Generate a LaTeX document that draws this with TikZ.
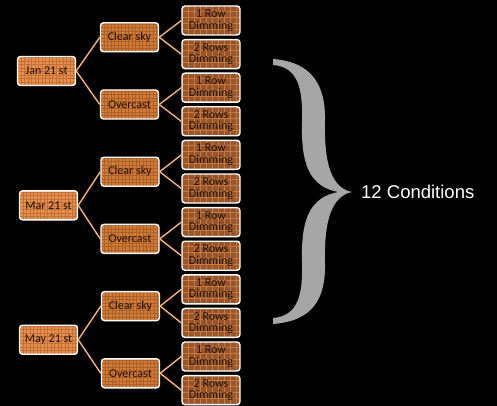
\documentclass[tikz,border=0pt]{standalone}
\usepackage{fontspec}
\setmainfont{Carlito}
\newfontfamily\labelfont{Liberation Sans}
\definecolor{leaffill}{HTML}{98542A}
\definecolor{leafgrid}{HTML}{C87A3E}
\definecolor{midfill}{HTML}{D47B36}
\definecolor{midgrid}{HTML}{A9602A}
\definecolor{rootfill}{HTML}{E8914E}
\definecolor{rootgrid}{HTML}{C27038}
\definecolor{linkcol}{HTML}{F4B183}
\definecolor{bracecol}{HTML}{A6A6A6}
\definecolor{textcol}{HTML}{1E1008}
\tikzset{
  plaid/.style n args={3}{fill=#1, path picture={
    \foreach \k in {0,#3,...,64} {
      \draw[#2, line width=0.5pt]
        ([xshift=\k pt]path picture bounding box.south west) --
        ([xshift=\k pt]path picture bounding box.north west);
    }
    \foreach \k in {0,#3,...,34} {
      \draw[#2, line width=0.5pt]
        ([yshift=\k pt]path picture bounding box.south west) --
        ([yshift=\k pt]path picture bounding box.south east);
    }
  }},
  boxbase/.style={draw=white, line width=1.4pt, rounded corners=3pt,
    minimum width=58pt, minimum height=29pt, inner sep=0.5pt, align=center,
    text=textcol, font=\fontsize{12}{11.5}\selectfont},
  leafbox/.style={boxbase, plaid={leaffill}{leafgrid}{6}},
  midbox/.style={boxbase, plaid={midfill}{midgrid}{3.5}},
  rootbox/.style={boxbase, plaid={rootfill}{rootgrid}{3.5}},
  link/.style={draw=linkcol, line width=1.4pt},
}
\begin{document}
\begin{tikzpicture}[x=1pt, y=-1pt]
\fill[black] (0,0) rectangle (497,406);
\useasboundingbox (0,0) rectangle (497,406);

% leaves
\foreach \i/\t in {0/{1 Row\\Dimming},1/{2 Rows\\Dimming},2/{1 Row\\Dimming},3/{2 Rows\\Dimming},
                   4/{1 Row\\Dimming},5/{2 Rows\\Dimming},6/{1 Row\\Dimming},7/{2 Rows\\Dimming},
                   8/{1 Row\\Dimming},9/{2 Rows\\Dimming},10/{1 Row\\Dimming},11/{2 Rows\\Dimming}} {
  \node[leafbox] (l\i) at (211, 20.5+33.6*\i) {\t};
}
% middle
\node[midbox] (m0) at (129.5, 37.3) {Clear sky};
\node[midbox] (m1) at (129.5, 104.5) {Overcast};
\node[midbox] (m2) at (130, 171.7) {Clear sky};
\node[midbox] (m3) at (130, 238.9) {Overcast};
\node[midbox] (m4) at (130.5, 306.1) {Clear sky};
\node[midbox] (m5) at (130.5, 373.3) {Overcast};
% roots
\node[rootbox] (r0) at (46.5, 71) {Jan 21 st};
\node[rootbox] (r1) at (48.5, 205.3) {Mar 21 st};
\node[rootbox] (r2) at (48.5, 339.7) {May 21 st};

% connectors
\draw[link] (r0.east) -- (m0.west);
\draw[link] (r0.east) -- (m1.west);
\draw[link] (r1.east) -- (m2.west);
\draw[link] (r1.east) -- (m3.west);
\draw[link] (r2.east) -- (m4.west);
\draw[link] (r2.east) -- (m5.west);
\foreach \m/\a/\b in {0/0/1,1/2/3,2/4/5,3/6/7,4/8/9,5/10/11} {
  \draw[link] (m\m.east) -- (l\a.west);
  \draw[link] (m\m.east) -- (l\b.west);
}

% brace
\fill[bracecol] (273,59) .. controls (312,62) and (326,85) .. (325,122)
  .. controls (324,165) and (332,188) .. (352,192)
  .. controls (332,196) and (324,220) .. (325,262)
  .. controls (326,300) and (312,321) .. (273,324)
  -- (273,318)
  .. controls (298,316) and (303,295) .. (302,262)
  .. controls (301,222) and (308,198) .. (338,192)
  .. controls (308,186) and (301,162) .. (302,122)
  .. controls (303,88) and (298,67) .. (273,65) -- cycle;
\node[anchor=west, text=white, font=\labelfont\fontsize{18.5}{20}\selectfont, inner sep=0pt] (cond) at (361,192) {12 Conditions};
\end{tikzpicture}
\end{document}
